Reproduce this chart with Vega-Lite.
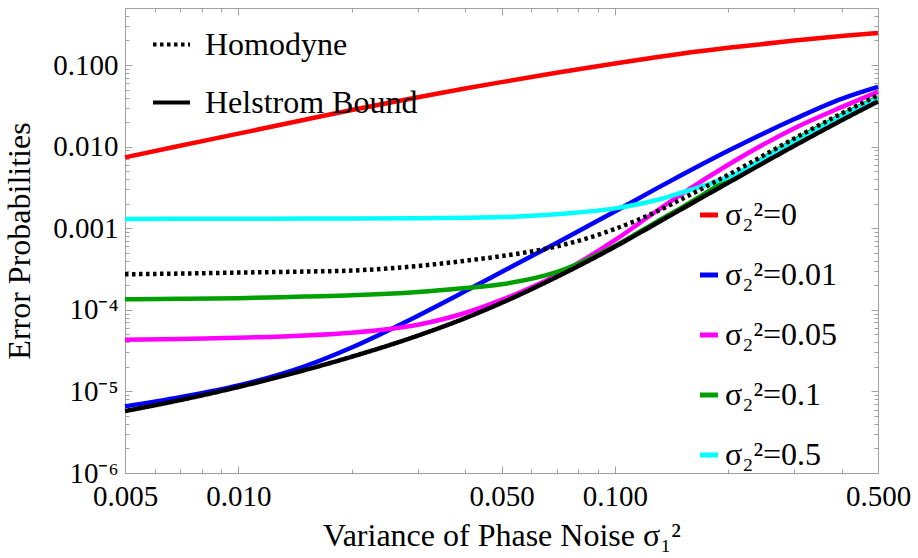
{
  "$schema": "https://vega.github.io/schema/vega-lite/v6.json",
  "width": 753,
  "height": 465,
  "autosize": "none",
  "padding": {"left": 125, "top": 8, "right": 40, "bottom": 85},
  "background": "white",
  "config": {
    "font": "Liberation Serif",
    "view": {"stroke": "#a0a0a0", "strokeWidth": 1},
    "axis": {
      "grid": false,
      "domain": false,
      "tickColor": "#a0a0a0",
      "tickWidth": 1,
      "labelFont": "Liberation Serif",
      "labelFontSize": 29,
      "labelColor": "black",
      "titleFont": "Liberation Serif",
      "titleFontSize": 32,
      "titleFontWeight": "normal",
      "titleColor": "black",
      "labelFlush": false,
      "labelOverlap": false
    },
    "legend": {
      "labelFont": "Liberation Serif",
      "labelFontSize": 32,
      "labelColor": "black",
      "labelLimit": 400,
      "padding": 0
    }
  },
  "datasets": {
    "colA": [
      {"x": 0.005, "y": 0.00738, "curve": "σ₂²=0"},
      {"x": 0.007, "y": 0.01023, "curve": "σ₂²=0"},
      {"x": 0.01, "y": 0.01442, "curve": "σ₂²=0"},
      {"x": 0.015, "y": 0.02135, "curve": "σ₂²=0"},
      {"x": 0.02, "y": 0.02805, "curve": "σ₂²=0"},
      {"x": 0.03, "y": 0.04035, "curve": "σ₂²=0"},
      {"x": 0.04, "y": 0.05158, "curve": "σ₂²=0"},
      {"x": 0.05, "y": 0.06175, "curve": "σ₂²=0"},
      {"x": 0.07, "y": 0.08045, "curve": "σ₂²=0"},
      {"x": 0.1, "y": 0.1046, "curve": "σ₂²=0"},
      {"x": 0.13, "y": 0.1253, "curve": "σ₂²=0"},
      {"x": 0.15, "y": 0.1375, "curve": "σ₂²=0"},
      {"x": 0.2, "y": 0.1624, "curve": "σ₂²=0"},
      {"x": 0.3, "y": 0.1995, "curve": "σ₂²=0"},
      {"x": 0.4, "y": 0.2265, "curve": "σ₂²=0"},
      {"x": 0.5, "y": 0.2472, "curve": "σ₂²=0"},
      {"x": 0.005, "y": 6.55e-6, "curve": "σ₂²=0.01"},
      {"x": 0.007, "y": 8.51e-6, "curve": "σ₂²=0.01"},
      {"x": 0.01, "y": 1.184e-5, "curve": "σ₂²=0.01"},
      {"x": 0.015, "y": 2.034e-5, "curve": "σ₂²=0.01"},
      {"x": 0.02, "y": 3.456e-5, "curve": "σ₂²=0.01"},
      {"x": 0.03, "y": 8.47e-5, "curve": "σ₂²=0.01"},
      {"x": 0.04, "y": 1.684e-4, "curve": "σ₂²=0.01"},
      {"x": 0.05, "y": 2.902e-4, "curve": "σ₂²=0.01"},
      {"x": 0.07, "y": 6.61e-4, "curve": "σ₂²=0.01"},
      {"x": 0.1, "y": 1.605e-3, "curve": "σ₂²=0.01"},
      {"x": 0.13, "y": 3.123e-3, "curve": "σ₂²=0.01"},
      {"x": 0.15, "y": 4.45e-3, "curve": "σ₂²=0.01"},
      {"x": 0.2, "y": 8.88e-3, "curve": "σ₂²=0.01"},
      {"x": 0.3, "y": 0.02177, "curve": "σ₂²=0.01"},
      {"x": 0.4, "y": 0.03847, "curve": "σ₂²=0.01"},
      {"x": 0.5, "y": 0.05393, "curve": "σ₂²=0.01"},
      {"x": 0.005, "y": 4.29e-5, "curve": "σ₂²=0.05"},
      {"x": 0.007, "y": 4.39e-5, "curve": "σ₂²=0.05"},
      {"x": 0.01, "y": 4.54e-5, "curve": "σ₂²=0.05"},
      {"x": 0.015, "y": 4.846e-5, "curve": "σ₂²=0.05"},
      {"x": 0.02, "y": 5.244e-5, "curve": "σ₂²=0.05"},
      {"x": 0.03, "y": 6.57e-5, "curve": "σ₂²=0.05"},
      {"x": 0.04, "y": 9.14e-5, "curve": "σ₂²=0.05"},
      {"x": 0.05, "y": 1.322e-4, "curve": "σ₂²=0.05"},
      {"x": 0.07, "y": 2.659e-4, "curve": "σ₂²=0.05"},
      {"x": 0.1, "y": 7.13e-4, "curve": "σ₂²=0.05"},
      {"x": 0.13, "y": 1.661e-3, "curve": "σ₂²=0.05"},
      {"x": 0.15, "y": 2.599e-3, "curve": "σ₂²=0.05"},
      {"x": 0.2, "y": 6.005e-3, "curve": "σ₂²=0.05"},
      {"x": 0.3, "y": 0.0168, "curve": "σ₂²=0.05"},
      {"x": 0.4, "y": 0.03045, "curve": "σ₂²=0.05"},
      {"x": 0.5, "y": 0.0469, "curve": "σ₂²=0.05"}
    ],
    "colB": [
      {"x": 0.005, "y": 1.348e-4, "curve": "σ₂²=0.1"},
      {"x": 0.007, "y": 1.367e-4, "curve": "σ₂²=0.1"},
      {"x": 0.01, "y": 1.387e-4, "curve": "σ₂²=0.1"},
      {"x": 0.015, "y": 1.455e-4, "curve": "σ₂²=0.1"},
      {"x": 0.02, "y": 1.505e-4, "curve": "σ₂²=0.1"},
      {"x": 0.03, "y": 1.651e-4, "curve": "σ₂²=0.1"},
      {"x": 0.04, "y": 1.848e-4, "curve": "σ₂²=0.1"},
      {"x": 0.05, "y": 2.057e-4, "curve": "σ₂²=0.1"},
      {"x": 0.07, "y": 2.893e-4, "curve": "σ₂²=0.1"},
      {"x": 0.1, "y": 6.055e-4, "curve": "σ₂²=0.1"},
      {"x": 0.13, "y": 1.221e-3, "curve": "σ₂²=0.1"},
      {"x": 0.15, "y": 1.777e-3, "curve": "σ₂²=0.1"},
      {"x": 0.2, "y": 3.99e-3, "curve": "σ₂²=0.1"},
      {"x": 0.3, "y": 0.01198, "curve": "σ₂²=0.1"},
      {"x": 0.4, "y": 0.02423, "curve": "σ₂²=0.1"},
      {"x": 0.5, "y": 0.04023, "curve": "σ₂²=0.1"},
      {"x": 0.005, "y": 1.300e-3, "curve": "σ₂²=0.5"},
      {"x": 0.007, "y": 1.302e-3, "curve": "σ₂²=0.5"},
      {"x": 0.01, "y": 1.303e-3, "curve": "σ₂²=0.5"},
      {"x": 0.015, "y": 1.311e-3, "curve": "σ₂²=0.5"},
      {"x": 0.02, "y": 1.315e-3, "curve": "σ₂²=0.5"},
      {"x": 0.03, "y": 1.326e-3, "curve": "σ₂²=0.5"},
      {"x": 0.04, "y": 1.341e-3, "curve": "σ₂²=0.5"},
      {"x": 0.05, "y": 1.368e-3, "curve": "σ₂²=0.5"},
      {"x": 0.07, "y": 1.488e-3, "curve": "σ₂²=0.5"},
      {"x": 0.1, "y": 1.752e-3, "curve": "σ₂²=0.5"},
      {"x": 0.13, "y": 2.233e-3, "curve": "σ₂²=0.5"},
      {"x": 0.15, "y": 2.72e-3, "curve": "σ₂²=0.5"},
      {"x": 0.2, "y": 4.22e-3, "curve": "σ₂²=0.5"},
      {"x": 0.3, "y": 0.01164, "curve": "σ₂²=0.5"},
      {"x": 0.4, "y": 0.02355, "curve": "σ₂²=0.5"},
      {"x": 0.5, "y": 0.03913, "curve": "σ₂²=0.5"}
    ],
    "helstrom": [
      {"x": 0.005, "y": 5.74e-6, "method": "Helstrom Bound"},
      {"x": 0.007, "y": 7.82e-6, "method": "Helstrom Bound"},
      {"x": 0.01, "y": 1.132e-5, "method": "Helstrom Bound"},
      {"x": 0.015, "y": 1.823e-5, "method": "Helstrom Bound"},
      {"x": 0.02, "y": 2.659e-5, "method": "Helstrom Bound"},
      {"x": 0.03, "y": 4.833e-5, "method": "Helstrom Bound"},
      {"x": 0.04, "y": 7.89e-5, "method": "Helstrom Bound"},
      {"x": 0.05, "y": 1.215e-4, "method": "Helstrom Bound"},
      {"x": 0.07, "y": 2.52e-4, "method": "Helstrom Bound"},
      {"x": 0.1, "y": 5.92e-4, "method": "Helstrom Bound"},
      {"x": 0.13, "y": 1.171e-3, "method": "Helstrom Bound"},
      {"x": 0.15, "y": 1.703e-3, "method": "Helstrom Bound"},
      {"x": 0.2, "y": 3.604e-3, "method": "Helstrom Bound"},
      {"x": 0.3, "y": 0.01026, "method": "Helstrom Bound"},
      {"x": 0.4, "y": 0.02098, "method": "Helstrom Bound"},
      {"x": 0.5, "y": 0.0358, "method": "Helstrom Bound"}
    ],
    "homodyne": [
      {"x": 0.005, "y": 2.727e-4, "method": "Homodyne"},
      {"x": 0.007, "y": 2.781e-4, "method": "Homodyne"},
      {"x": 0.01, "y": 2.860e-4, "method": "Homodyne"},
      {"x": 0.015, "y": 2.942e-4, "method": "Homodyne"},
      {"x": 0.02, "y": 3.027e-4, "method": "Homodyne"},
      {"x": 0.03, "y": 3.446e-4, "method": "Homodyne"},
      {"x": 0.04, "y": 3.99e-4, "method": "Homodyne"},
      {"x": 0.05, "y": 4.556e-4, "method": "Homodyne"},
      {"x": 0.07, "y": 5.97e-4, "method": "Homodyne"},
      {"x": 0.1, "y": 9.78e-4, "method": "Homodyne"},
      {"x": 0.13, "y": 1.623e-3, "method": "Homodyne"},
      {"x": 0.15, "y": 2.258e-3, "method": "Homodyne"},
      {"x": 0.2, "y": 4.504e-3, "method": "Homodyne"},
      {"x": 0.3, "y": 0.0126, "method": "Homodyne"},
      {"x": 0.4, "y": 0.02542, "method": "Homodyne"},
      {"x": 0.5, "y": 0.04245, "method": "Homodyne"}
    ]
  },
  "resolve": {"axis": {"x": "independent", "y": "independent"}},
  "layer": [
    {
      "data": {"name": "colA"},
      "mark": {"type": "line", "strokeWidth": 4.5, "interpolate": "monotone"},
      "encoding": {
        "x": {
          "field": "x", "type": "quantitative",
          "scale": {"type": "log", "domain": [0.005, 0.5], "nice": false},
          "axis": {
            "orient": "bottom",
            "values": [0.005, 0.01, 0.05, 0.1, 0.5],
            "format": ".3f",
            "tickSize": -7,
            "labelPadding": 16,
            "labelFont": "Liberation Serif",
            "titleFont": "Liberation Serif",
            "title": "Variance of Phase Noise σ₁²",
            "titlePadding": 9
          }
        },
        "y": {
          "field": "y", "type": "quantitative",
          "scale": {"type": "log", "domain": [1e-6, 0.5], "nice": false},
          "axis": {
            "orient": "left",
            "values": [1e-6, 1e-5, 1e-4, 0.001, 0.01, 0.1],
            "labelExpr": "datum.value >= 0.0009 ? format(datum.value, '.3f') : datum.value > 5e-5 ? '10⁻⁴' : datum.value > 5e-6 ? '10⁻⁵' : '10⁻⁶'",
            "tickSize": -7,
            "labelPadding": 14,
            "labelFont": "Liberation Serif",
            "titleFont": "Liberation Serif",
            "title": "Error Probabilities",
            "titlePadding": 16
          }
        },
        "color": {
          "field": "curve", "type": "nominal",
          "scale": {
            "domain": ["σ₂²=0", "σ₂²=0.01", "σ₂²=0.05", "σ₂²=0.1", "σ₂²=0.5"],
            "range": ["#ff0000", "#0000ff", "#ff00ff", "#00a000", "#00ffff"]
          },
          "legend": {
            "title": null,
            "orient": "none",
            "legendX": 568,
            "legendY": 191,
            "symbolType": "stroke",
            "symbolSize": 324,
            "symbolStrokeWidth": 5,
            "labelFont": "Liberation Serif",
            "labelFontSize": 32,
            "labelLimit": 400,
            "labelOffset": 0,
            "rowPadding": 28
          }
        }
      }
    },
    {
      "data": {"name": "colB"},
      "mark": {"type": "line", "strokeWidth": 4.5, "interpolate": "monotone"},
      "encoding": {
        "x": {
          "field": "x", "type": "quantitative",
          "axis": {
            "orient": "bottom",
            "values": [0.006, 0.007, 0.008, 0.009, 0.02, 0.03, 0.04, 0.06, 0.07, 0.08, 0.09, 0.2, 0.3, 0.4],
            "tickSize": -4,
            "labels": false,
            "title": null
          }
        },
        "y": {
          "field": "y", "type": "quantitative",
          "axis": {
            "orient": "left",
            "values": [2e-6, 3e-6, 4e-6, 5e-6, 6e-6, 7e-6, 8e-6, 9e-6, 2e-5, 3e-5, 4e-5, 5e-5, 6e-5, 7e-5, 8e-5, 9e-5, 2e-4, 3e-4, 4e-4, 5e-4, 6e-4, 7e-4, 8e-4, 9e-4, 0.002, 0.003, 0.004, 0.005, 0.006, 0.007, 0.008, 0.009, 0.02, 0.03, 0.04, 0.05, 0.06, 0.07, 0.08, 0.09, 0.2, 0.3, 0.4],
            "tickSize": -4,
            "labels": false,
            "title": null
          }
        },
        "color": {"field": "curve", "type": "nominal"}
      }
    },
    {
      "data": {"name": "helstrom"},
      "mark": {"type": "line", "strokeWidth": 4.5, "color": "black", "interpolate": "monotone"},
      "encoding": {
        "x": {
          "field": "x", "type": "quantitative",
          "axis": {
            "orient": "top",
            "values": [0.005, 0.01, 0.05, 0.1, 0.5],
            "tickSize": -7,
            "labels": false,
            "title": null
          }
        },
        "y": {
          "field": "y", "type": "quantitative",
          "axis": {
            "orient": "right",
            "values": [1e-6, 1e-5, 1e-4, 0.001, 0.01, 0.1],
            "tickSize": -7,
            "labels": false,
            "title": null
          }
        },
        "strokeDash": {
          "field": "method", "type": "nominal",
          "scale": {"domain": ["Homodyne", "Helstrom Bound"], "range": [[3.5, 3.5], [1, 0]]},
          "legend": {
            "title": null,
            "orient": "none",
            "legendX": 26,
            "legendY": 16,
            "symbolType": "stroke",
            "symbolSize": 1369,
            "symbolStrokeWidth": 4,
            "symbolStrokeColor": "black",
            "labelFont": "Liberation Serif",
            "labelFontSize": 32,
            "labelLimit": 400,
            "labelOffset": 13,
            "rowPadding": 21
          }
        }
      }
    },
    {
      "data": {"name": "homodyne"},
      "mark": {"type": "line", "strokeWidth": 4.5, "color": "black", "interpolate": "monotone"},
      "encoding": {
        "x": {
          "field": "x", "type": "quantitative",
          "axis": {
            "orient": "top",
            "values": [0.006, 0.007, 0.008, 0.009, 0.02, 0.03, 0.04, 0.06, 0.07, 0.08, 0.09, 0.2, 0.3, 0.4],
            "tickSize": -4,
            "labels": false,
            "title": null
          }
        },
        "y": {
          "field": "y", "type": "quantitative",
          "axis": {
            "orient": "right",
            "values": [2e-6, 3e-6, 4e-6, 5e-6, 6e-6, 7e-6, 8e-6, 9e-6, 2e-5, 3e-5, 4e-5, 5e-5, 6e-5, 7e-5, 8e-5, 9e-5, 2e-4, 3e-4, 4e-4, 5e-4, 6e-4, 7e-4, 8e-4, 9e-4, 0.002, 0.003, 0.004, 0.005, 0.006, 0.007, 0.008, 0.009, 0.02, 0.03, 0.04, 0.05, 0.06, 0.07, 0.08, 0.09, 0.2, 0.3, 0.4],
            "tickSize": -4,
            "labels": false,
            "title": null
          }
        },
        "strokeDash": {"field": "method", "type": "nominal"}
      }
    }
  ]
}
